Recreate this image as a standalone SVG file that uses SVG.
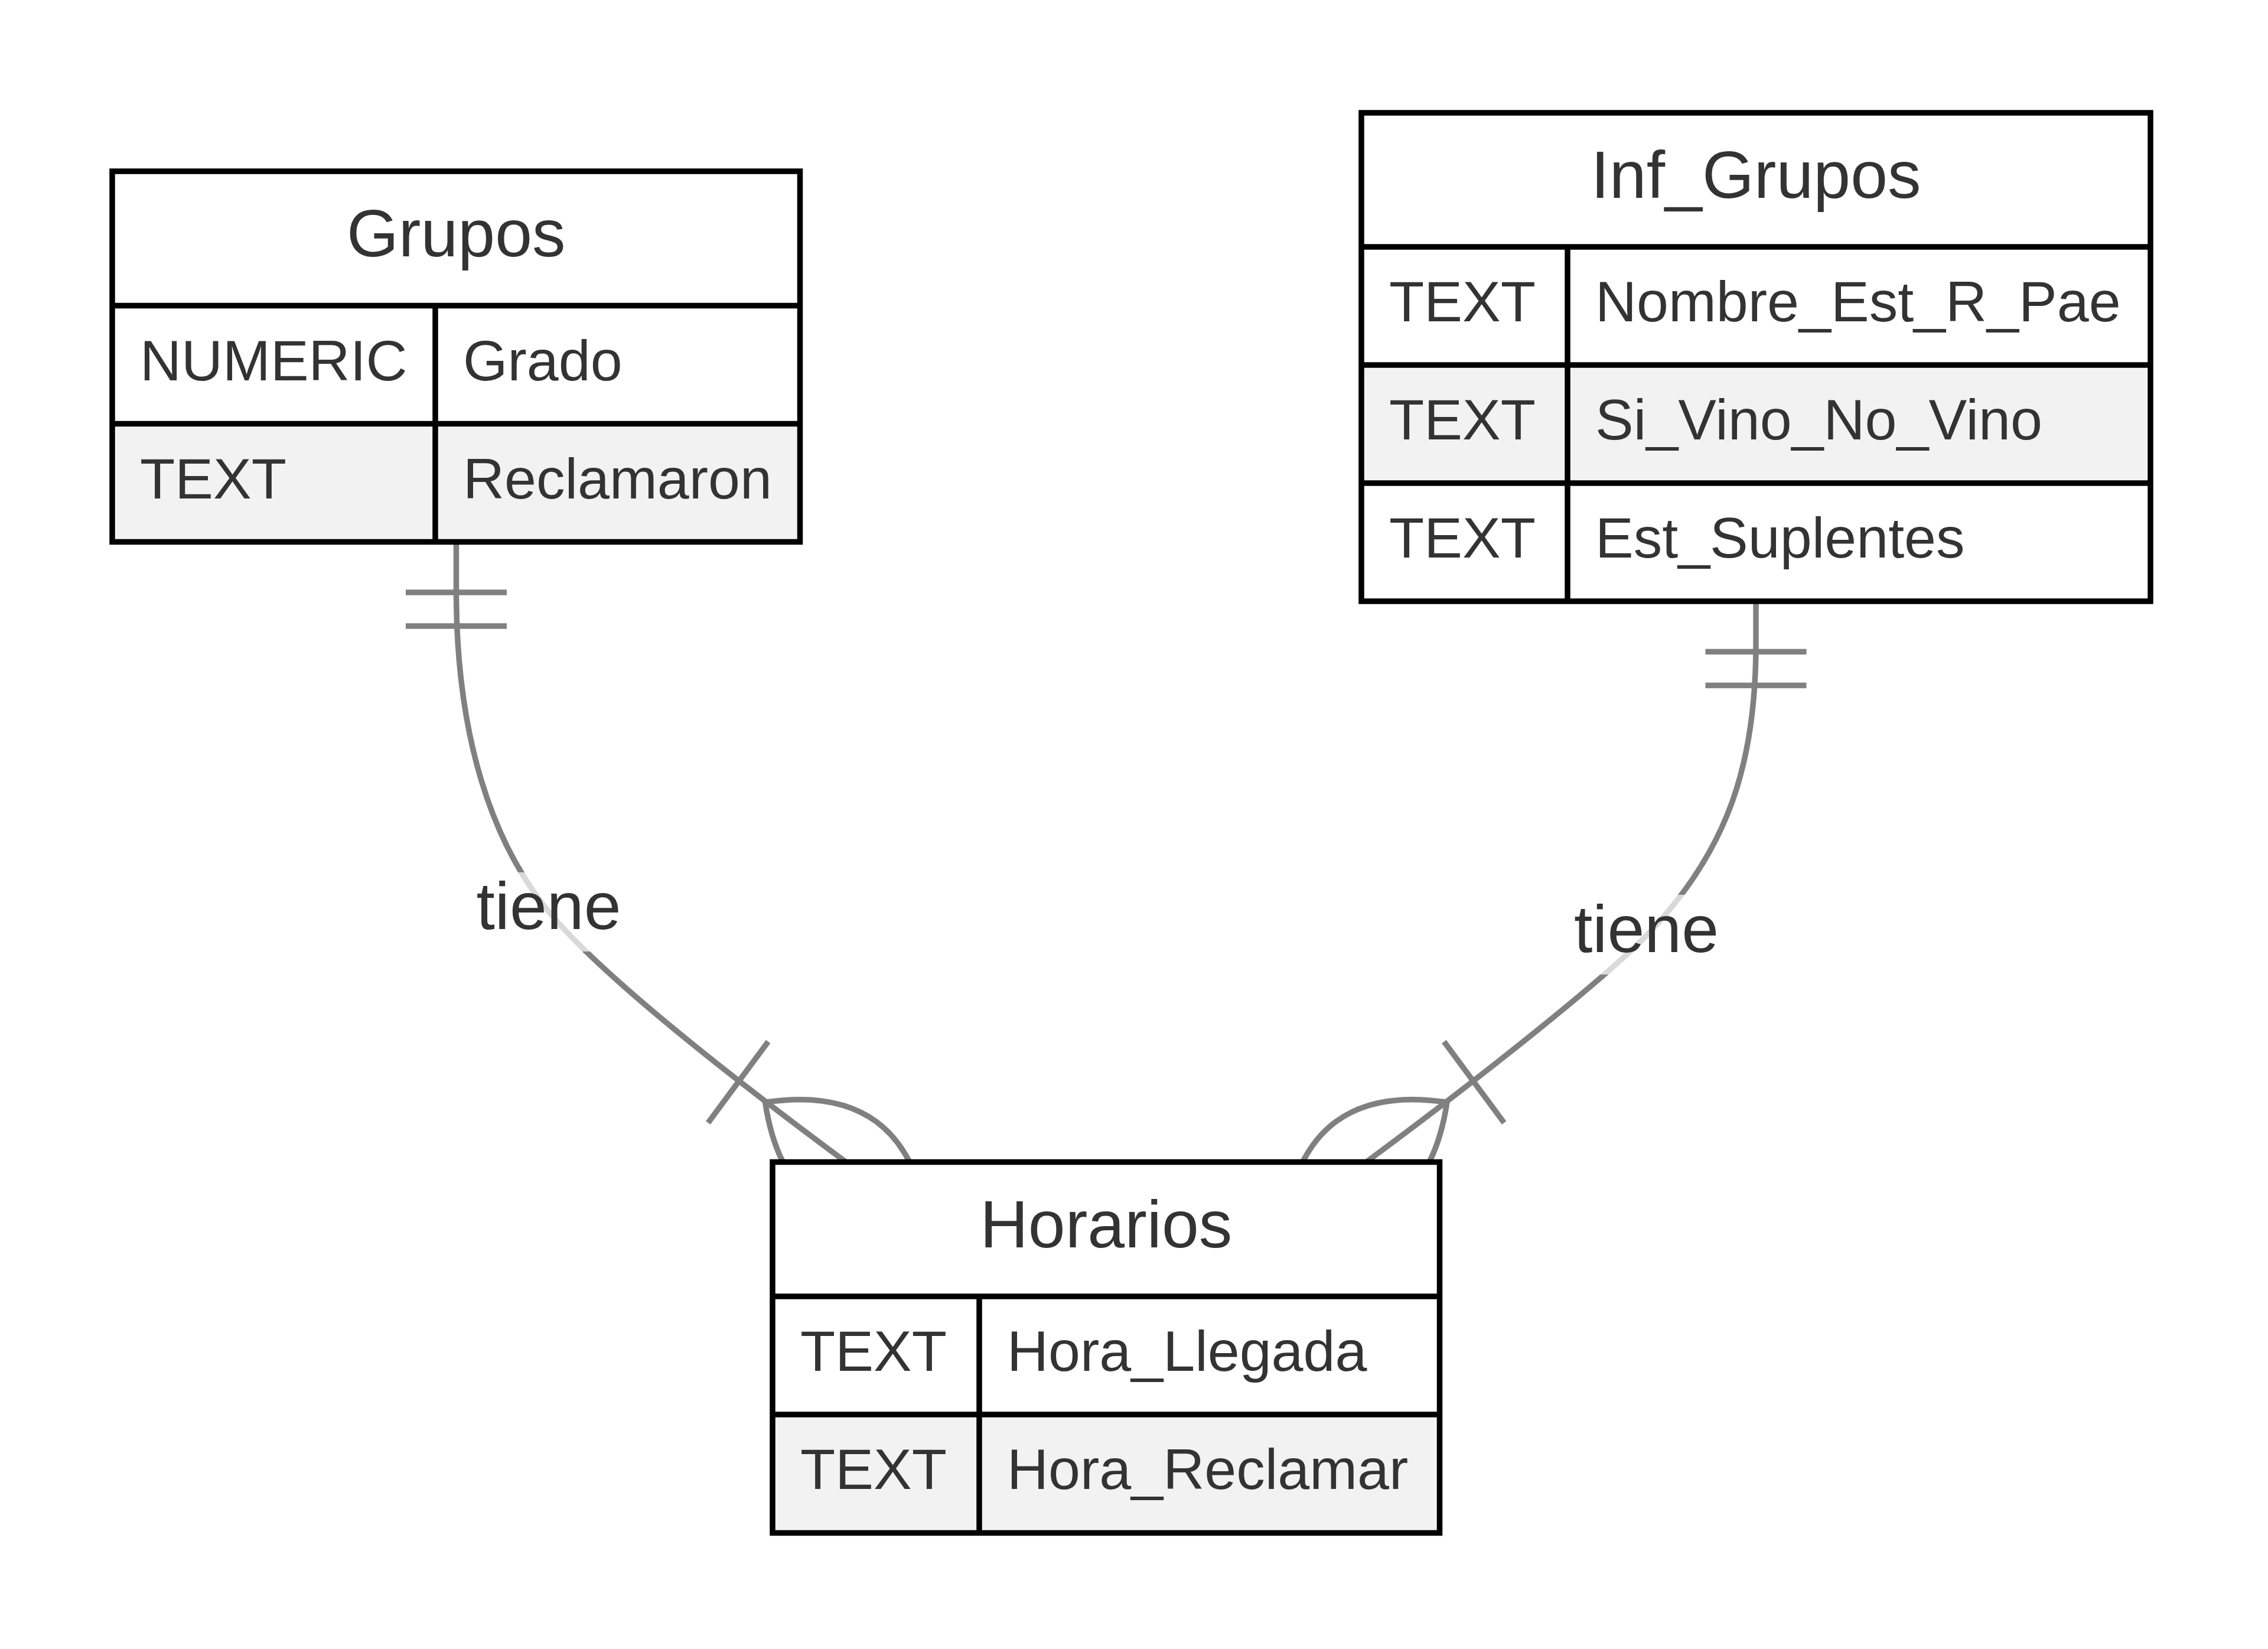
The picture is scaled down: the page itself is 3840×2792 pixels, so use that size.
<svg xmlns="http://www.w3.org/2000/svg" width="3840" height="2792" viewBox="0 0 3840 2792">
<style>
.bg{fill:#ffffff}
.row{fill:#ffffff;stroke:none}
.alt{fill:#f2f2f2;stroke:none}
.sep{stroke:#000000;stroke-width:9.5;fill:none}
.border{fill:none;stroke:#000000;stroke-width:9.5}
.title{font-family:"Liberation Sans",Arial,Helvetica,sans-serif;font-size:113px;fill:#333333;text-anchor:middle}
.attr{font-family:"Liberation Sans",Arial,Helvetica,sans-serif;font-size:97px;fill:#333333}
.rel{fill:none;stroke:#808080;stroke-width:9.5}
.mk{fill:none;stroke:#808080;stroke-width:9.5}
.lblbg{fill:#ffffff;fill-opacity:0.7;stroke:none}
.lbl{font-family:"Liberation Sans",Arial,Helvetica,sans-serif;font-size:113px;fill:#333333;text-anchor:middle}
</style>
<defs>
<marker id="onlyOneStart" markerUnits="userSpaceOnUse" orient="auto" viewBox="0 -100 170 200" markerWidth="170" markerHeight="200" refX="0" refY="0" overflow="visible">
<path class="mk" d="M85.5,-85.5 V85.5 M142.5,-85.5 V85.5"/>
</marker>
<marker id="oneOrMoreEnd" markerUnits="userSpaceOnUse" orient="auto" viewBox="-250 -180 440 360" markerWidth="440" markerHeight="360" refX="0" refY="0" overflow="visible">
<path class="mk" d="M-171,0 Q0,-171 171,0 Q0,171 -171,0 M-228,-85.5 V85.5"/>
</marker>
</defs>
<rect class="bg" x="0" y="0" width="3840" height="2792"/>
<g id="connectors">
<path id="rel-Grupos-Horarios" class="rel" marker-start="url(#onlyOneStart)" marker-end="url(#oneOrMoreEnd)" d="M772.5,917.5 L772.5,1000 C772.5,1250 833.9,1427.4 929,1543.5 C1024.1,1659.6 1272.2,1849 1433,1968"/>
<path id="rel-Inf_Grupos-Horarios" class="rel" marker-start="url(#onlyOneStart)" marker-end="url(#oneOrMoreEnd)" d="M2973,1018 L2973,1090 C2973,1290 2927.6,1438.5 2789,1582.5 C2719.7,1654.5 2521.5,1813.3 2312.5,1968"/>
</g>
<g id="edge-labels">
<g id="label-1">
<rect class="lblbg" x="808.5" y="1477" width="241" height="134"/>
<text class="lbl" x="929" y="1573">tiene</text>
</g>
<g id="label-2">
<rect class="lblbg" x="2667" y="1515" width="241" height="135"/>
<text class="lbl" x="2787.5" y="1612">tiene</text>
</g>
</g>
<g id="Grupos">
<rect class="row" x="190" y="290" width="1164.5" height="227.5"/>
<rect class="row" x="190" y="517.5" width="1164.5" height="200"/>
<rect class="alt" x="190" y="717.5" width="1164.5" height="200"/>
<path class="sep" d="M190,517.5 H1354.5 M190,717.5 H1354.5 M737,517.5 V917.5"/>
<rect class="border" x="190" y="290" width="1164.5" height="627.5"/>
<text class="title" x="772.25" y="434">Grupos</text>
<text class="attr" x="237" y="643.5">NUMERIC</text>
<text class="attr" x="784" y="643.5">Grado</text>
<text class="attr" x="237" y="843.5">TEXT</text>
<text class="attr" x="784" y="843.5">Reclamaron</text>
</g>
<g id="Inf_Grupos">
<rect class="row" x="2305" y="191" width="1336" height="227"/>
<rect class="row" x="2305" y="418" width="1336" height="200"/>
<rect class="alt" x="2305" y="618" width="1336" height="200"/>
<rect class="row" x="2305" y="818" width="1336" height="200"/>
<path class="sep" d="M2305,418 H3641 M2305,618 H3641 M2305,818 H3641 M2654,418 V1018"/>
<rect class="border" x="2305" y="191" width="1336" height="827"/>
<text class="title" x="2973" y="335">Inf_Grupos</text>
<text class="attr" x="2352" y="544">TEXT</text>
<text class="attr" x="2701" y="544">Nombre_Est_R_Pae</text>
<text class="attr" x="2352" y="744">TEXT</text>
<text class="attr" x="2701" y="744">Si_Vino_No_Vino</text>
<text class="attr" x="2352" y="944">TEXT</text>
<text class="attr" x="2701" y="944">Est_Suplentes</text>
</g>
<g id="Horarios">
<rect class="row" x="1308" y="1967.5" width="1129.5" height="227.5"/>
<rect class="row" x="1308" y="2195" width="1129.5" height="200"/>
<rect class="alt" x="1308" y="2395" width="1129.5" height="200.5"/>
<path class="sep" d="M1308,2195 H2437.5 M1308,2395 H2437.5 M1658,2195 V2595.5"/>
<rect class="border" x="1308" y="1967.5" width="1129.5" height="628"/>
<text class="title" x="1872.75" y="2111.5">Horarios</text>
<text class="attr" x="1355" y="2321">TEXT</text>
<text class="attr" x="1705" y="2321">Hora_Llegada</text>
<text class="attr" x="1355" y="2521">TEXT</text>
<text class="attr" x="1705" y="2521">Hora_Reclamar</text>
</g>
</svg>
